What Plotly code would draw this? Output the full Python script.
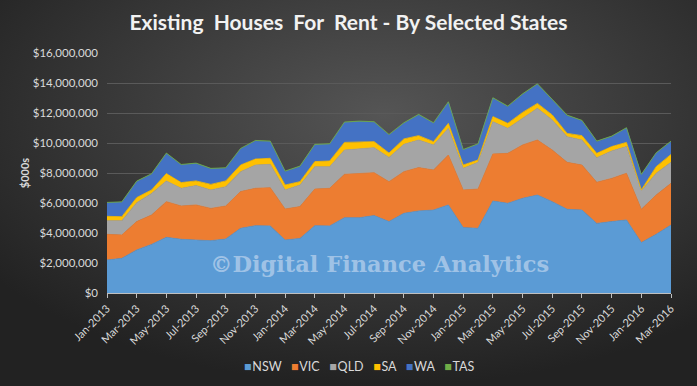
import base64
import pandas as pd
import plotly.graph_objects as go

months = [d.strftime("%b-%Y") for d in pd.date_range("2013-01-01", "2016-03-01", freq="MS")]

nsw = [2.20, 2.31, 2.87, 3.24, 3.71, 3.58, 3.53, 3.49, 3.60, 4.31,
       4.49, 4.47, 3.53, 3.64, 4.49, 4.47, 5.02, 5.02, 5.16, 4.76,
       5.31, 5.47, 5.53, 5.87, 4.36, 4.31, 6.13, 5.98, 6.31, 6.53,
       6.09, 5.58, 5.53, 4.64, 4.76, 4.87, 3.36, 3.91, 4.53]
vic = [1.71, 1.56, 1.89, 1.96, 2.38, 2.22, 2.34, 2.15, 2.20, 2.45,
       2.49, 2.55, 2.07, 2.12, 2.44, 2.51, 2.89, 2.94, 2.86, 2.66,
       2.78, 2.89, 2.67, 3.33, 2.51, 2.62, 3.14, 3.33, 3.56, 3.67,
       3.44, 3.13, 3.00, 2.74, 2.88, 3.11, 2.22, 2.62, 2.78]
qld = [0.91, 0.95, 1.26, 1.44, 1.38, 1.18, 1.29, 1.23, 1.29, 1.33,
       1.55, 1.56, 1.27, 1.44, 1.49, 1.44, 1.62, 1.64, 1.67, 1.62,
       1.82, 1.84, 1.67, 1.78, 1.44, 1.78, 2.15, 1.67, 1.77, 2.11,
       2.00, 1.71, 1.67, 1.64, 1.83, 1.78, 1.22, 1.45, 1.40]
sa = [0.29, 0.27, 0.34, 0.23, 0.49, 0.38, 0.31, 0.37, 0.38, 0.44,
      0.40, 0.40, 0.33, 0.22, 0.34, 0.38, 0.51, 0.49, 0.40, 0.29,
      0.36, 0.29, 0.22, 0.33, 0.22, 0.16, 0.34, 0.33, 0.40, 0.33,
      0.34, 0.22, 0.29, 0.29, 0.29, 0.28, 0.07, 0.44, 0.53]
wa = [0.89, 0.95, 1.06, 1.04, 1.33, 1.17, 1.15, 1.03, 0.84, 1.07,
      1.20, 1.11, 0.89, 1.00, 1.11, 1.11, 1.32, 1.33, 1.29, 1.20,
      1.04, 1.38, 1.22, 1.40, 1.00, 1.04, 1.22, 1.11, 1.20, 1.27,
      1.00, 1.18, 0.98, 0.78, 0.66, 0.94, 1.00, 0.89, 0.85]
tas = [0.04] * 39

series = [("NSW", nsw, "#5B9BD5"), ("VIC", vic, "#ED7D31"), ("QLD", qld, "#A5A5A5"),
          ("SA", sa, "#FFC000"), ("WA", wa, "#4472C4"), ("TAS", tas, "#70AD47")]

yticks = list(range(0, 16000001, 2000000))
ytext = ["$" + format(v, ",") for v in yticks]

fig = go.Figure()
for name, vals, col in series:
    fig.add_trace(go.Scatter(
        x=months, y=[v * 1e6 for v in vals], name=name, mode="lines",
        stackgroup="one", line=dict(color=col, width=0.8), fillcolor=col,
        showlegend=False, hoverinfo="x+y+name"))

legend_text = "&nbsp;&nbsp;&nbsp;".join(
    f"<span style='color:{col}'>■</span>&#8202;{name}" for name, _, col in series)

W, H = 697, 386
L, R, T, B = 107, 26, 53, 93
pw, ph = W - L - R, H - T - B
svg = ("<svg xmlns='http://www.w3.org/2000/svg' width='697' height='386'>"
       "<defs><radialGradient id='g' cx='55%' cy='30%' r='70%'>"
       "<stop offset='0' stop-color='#555555'/><stop offset='1' stop-color='#222222'/>"
       "</radialGradient></defs><rect width='100%' height='100%' fill='url(#g)'/></svg>")
src = "data:image/svg+xml;base64," + base64.b64encode(svg.encode()).decode()

fig.update_layout(
    width=W, height=H,
    margin=dict(l=L, r=R, t=T, b=B),
    paper_bgcolor="#333333", plot_bgcolor="rgba(0,0,0,0)",
    images=[dict(source=src, xref="paper", yref="paper",
                 x=-L / pw, y=1 + T / ph, sizex=W / pw, sizey=H / ph,
                 sizing="stretch", layer="below", xanchor="left", yanchor="top")],
    title=dict(text="<b>Existing  Houses  For  Rent - By Selected States</b>",
               x=0.5, xanchor="center", y=1 - 23 / H, yanchor="middle",
               font=dict(family="Lato", size=21, color="#f2f2f2")),
    font=dict(family="Lato", size=11, color="#d9d9d9"),
    showlegend=False,
    xaxis=dict(type="category", range=[0, 38], tickmode="array", automargin=False,
               tickvals=months[::2], ticktext=months[::2], tickangle=-45,
               showgrid=False, showline=True, linecolor="#bfbfbf", linewidth=1,
               ticks="outside", ticklen=4, tickcolor="#bfbfbf",
               tickfont=dict(family="Lato", size=11, color="#d9d9d9")),
    yaxis=dict(range=[0, 16000000], tickmode="array", tickvals=yticks, ticktext=ytext,
               automargin=False,
               showgrid=True, gridcolor="#5a5a5a", gridwidth=1, zeroline=False,
               showline=False, ticks="", ticklabelstandoff=8,
               tickfont=dict(family="Lato", size=11.5, color="#d9d9d9"),
               title=dict(text="<b>$000s</b>", font=dict(family="Lato", size=11, color="#d9d9d9"),
                          standoff=0)),
    annotations=[
        dict(text="<b>©Digital Finance Analytics</b>", xref="paper", yref="paper",
             x=(379 - L) / pw, y=(H - B - 264) / ph, xanchor="center", yanchor="middle",
             showarrow=False,
             font=dict(family="DejaVu Serif", size=22.5, color="rgba(220,230,245,0.55)")),
        dict(text=legend_text, xref="paper", yref="paper",
             x=(359 - L) / pw, y=-(366 - (H - B)) / ph, xanchor="center", yanchor="middle",
             showarrow=False, font=dict(family="Lato", size=12.5, color="#d9d9d9")),
    ],
)

fig.write_html("out.html", config={"displayModeBar": False},
               post_script="document.body.style.margin='0';document.body.style.overflow='hidden';")
